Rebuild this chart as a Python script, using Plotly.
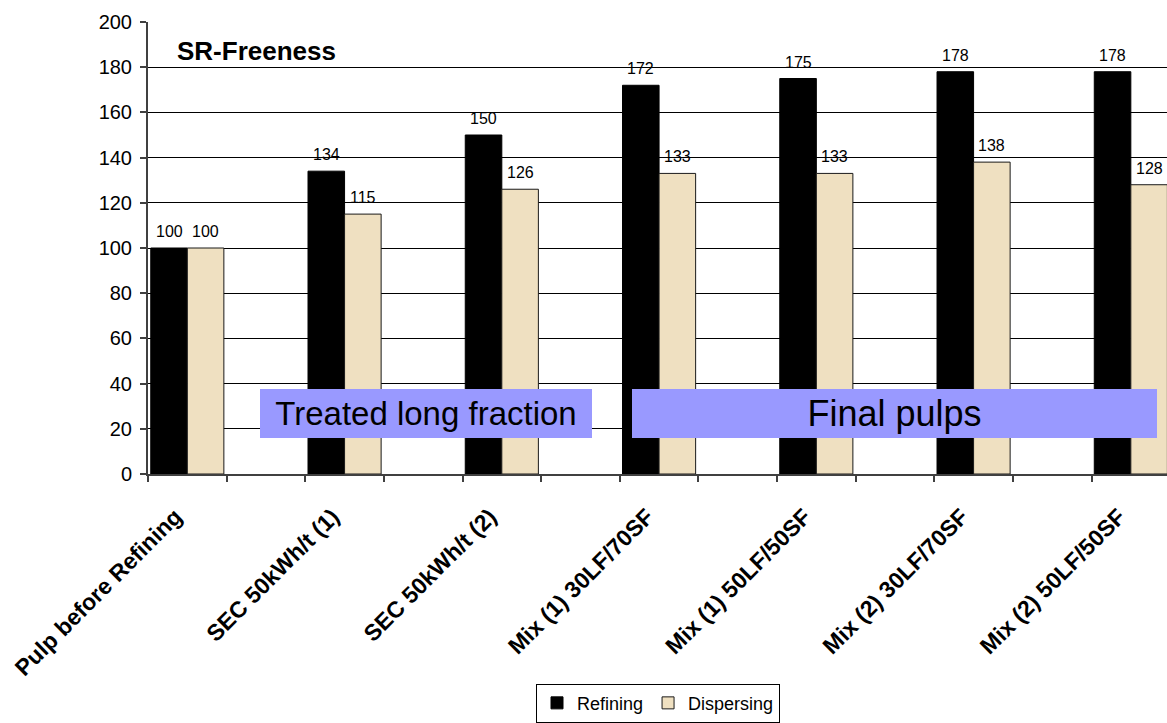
import plotly.graph_objects as go

# Sample names and SR-freeness indices (pulp before refining = 100)
categories = [
    "Pulp before Refining",
    "SEC 50kWh/t (1)",
    "SEC 50kWh/t (2)",
    "Mix (1) 30LF/70SF",
    "Mix (1) 50LF/50SF",
    "Mix (2) 30LF/70SF",
    "Mix (2) 50LF/50SF",
]
refining = [100, 134, 150, 172, 175, 178, 178]
dispersing = [100, 115, 126, 133, 133, 138, 128]

y_ticks = list(range(0, 201, 20))

FONT = "Arial, Liberation Sans, sans-serif"

# every sample sits on an even slot, leaving a blank slot between groups
xpos = [2 * i for i in range(len(categories))]
bar_w = 0.465

fig = go.Figure()
fig.add_trace(go.Bar(
    name="Refining", x=xpos, y=refining,
    width=bar_w, offset=-bar_w,
    marker=dict(color="#000000", line=dict(color="#000000", width=1)),
))
fig.add_trace(go.Bar(
    name="Dispersing", x=xpos, y=dispersing,
    width=bar_w, offset=0,
    marker=dict(color="#EFE0C1", line=dict(color="#1a1a1a", width=1)),
))

annotations = []
# value labels above each bar
for series, shift in ((refining, -bar_w / 2), (dispersing, bar_w / 2)):
    for xv, v in zip(xpos, series):
        annotations.append(dict(
            x=xv + shift, y=v, xref="x", yref="y", text=str(v),
            showarrow=False, yanchor="bottom", yshift=6,
            font=dict(family=FONT, size=16, color="#000000"),
        ))

annotations.append(dict(
    x=0.0265, y=0.936, xref="paper", yref="paper", text="<b>SR-Freeness</b>",
    showarrow=False, xanchor="left", yanchor="middle",
    font=dict(family=FONT, size=26, color="#000000"),
))

# group captions on lavender panels
for label, xc, w, size in (("Treated long fraction", 3.03, 332, 33),
                           ("Final pulps", 9.0, 525, 36)):
    annotations.append(dict(
        x=xc, y=26.8, xref="x", yref="y", text=label, showarrow=False,
        xanchor="center", yanchor="middle", width=w, height=49,
        bgcolor="#9999FF", borderpad=0, borderwidth=0,
        font=dict(family=FONT, size=size, color="#000000"),
    ))

fig.update_layout(
    width=1167, height=723,
    margin=dict(l=148, r=0, t=22, b=245, pad=0),
    paper_bgcolor="#FFFFFF", plot_bgcolor="#FFFFFF",
    barmode="overlay",
    font=dict(family=FONT, color="#000000"),
    showlegend=True,
    legend=dict(
        orientation="h", x=0.5005, xanchor="center", y=-0.507, yanchor="middle",
        bordercolor="#000000", borderwidth=1, bgcolor="#FFFFFF",
        font=dict(family=FONT, size=18, color="#000000"),
        itemwidth=30, tracegroupgap=0,
    ),
    annotations=annotations,
)

fig.update_xaxes(
    range=[-0.5, 12.46],
    tickmode="array", tickvals=xpos, ticktext=["<b>%s</b>" % c for c in categories],
    tickangle=-45, ticks="", showgrid=False, zeroline=False,
    showline=True, linecolor="#404040", linewidth=2,
    tickfont=dict(family=FONT, size=23, color="#000000"),
    ticklabelshift=-12, ticklabelstandoff=18,
    minor=dict(tickmode="array", tickvals=[x - 0.5 for x in range(14)],
               ticks="outside", ticklen=6, tickcolor="#404040", tickwidth=1.5,
               showgrid=False),
    fixedrange=True,
)
fig.update_yaxes(
    range=[0, 200], tickmode="array", tickvals=y_ticks,
    ticks="outside", ticklen=6, tickcolor="#404040", tickwidth=1.5,
    showgrid=True, gridcolor="#000000", gridwidth=1,
    zeroline=False, showline=True, linecolor="#404040", linewidth=2,
    tickfont=dict(family=FONT, size=20, color="#000000"),
    ticklabelstandoff=4,
    fixedrange=True,
)

fig.write_html("out.html", config={"displayModeBar": False})
